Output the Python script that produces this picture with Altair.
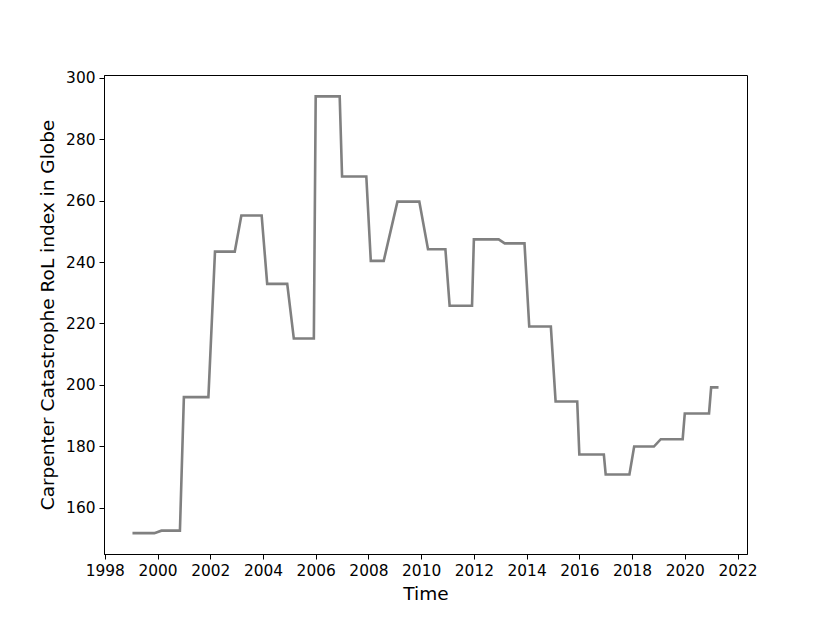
import altair as alt
import pandas as pd

# decimal year positions of the line's vertices
time = [1999.05, 1999.88, 2000.15, 2000.85, 2001.00, 2001.93, 2002.18, 2002.93,
        2003.18, 2003.95, 2004.16, 2004.92, 2005.17, 2005.93, 2006.00, 2006.91,
        2007.00, 2007.92, 2008.09, 2008.58, 2009.10, 2009.93, 2010.26, 2010.92,
        2011.08, 2011.93, 2012.00, 2012.94, 2013.17, 2013.92, 2014.10, 2014.92,
        2015.10, 2015.92, 2016.00, 2016.93, 2017.00, 2017.90, 2018.08, 2018.83,
        2019.09, 2019.92, 2020.00, 2020.92, 2021.00, 2021.28]
rol = [151.7, 151.7, 152.5, 152.5, 196.0, 196.0, 243.4, 243.4,
       255.2, 255.2, 232.9, 232.9, 215.1, 215.1, 294.0, 294.0,
       267.9, 267.9, 240.4, 240.4, 259.7, 259.7, 244.2, 244.2,
       225.8, 225.8, 247.4, 247.4, 246.1, 246.1, 219.0, 219.0,
       194.6, 194.6, 177.3, 177.3, 170.8, 170.8, 179.9, 179.9,
       182.3, 182.3, 190.7, 190.7, 199.2, 199.2]
x_ticks = [1998, 2000, 2002, 2004, 2006, 2008, 2010, 2012, 2014, 2016, 2018, 2020, 2022]
y_ticks = [160, 180, 200, 220, 240, 260, 280, 300]

df = pd.DataFrame({"Time": time, "RoL": rol, "order": list(range(len(time)))})

chart = alt.Chart(df).mark_line(color="#808080", strokeWidth=2.6, clip=True).encode(
    x=alt.X("Time:Q",
            scale=alt.Scale(domain=[1997.97, 2022.36], nice=False, zero=False),
            axis=alt.Axis(values=x_ticks, format="d", title="Time", grid=False,
                          tickColor="black", domainColor="black", tickSize=5,
                          labelPadding=4, titlePadding=6, labelOverlap=False,
                          labelFlush=False)),
    y=alt.Y("RoL:Q",
            scale=alt.Scale(domain=[144.9, 300.96], nice=False, zero=False),
            axis=alt.Axis(values=y_ticks, format="d",
                          title="Carpenter Catastrophe RoL index in Globe", grid=False,
                          tickColor="black", domainColor="black", tickSize=5,
                          labelPadding=4, titlePadding=8, labelOverlap=False,
                          labelFlush=False)),
    order="order:Q",
).properties(
    width=643, height=479,
    autosize=alt.AutoSizeParams(type="none"),
    padding={"left": 96, "top": 67, "right": 70, "bottom": 60},
).configure_view(
    stroke="black", strokeWidth=1
).configure_axis(
    labelFont="DejaVu Sans", titleFont="DejaVu Sans",
    labelFontSize=15.4, titleFontSize=18.5, titleFontWeight="normal",
    labelColor="black", titleColor="black", domainWidth=1, tickWidth=1
)

chart.save("out.html", embed_options={"renderer": "svg", "actions": False})
